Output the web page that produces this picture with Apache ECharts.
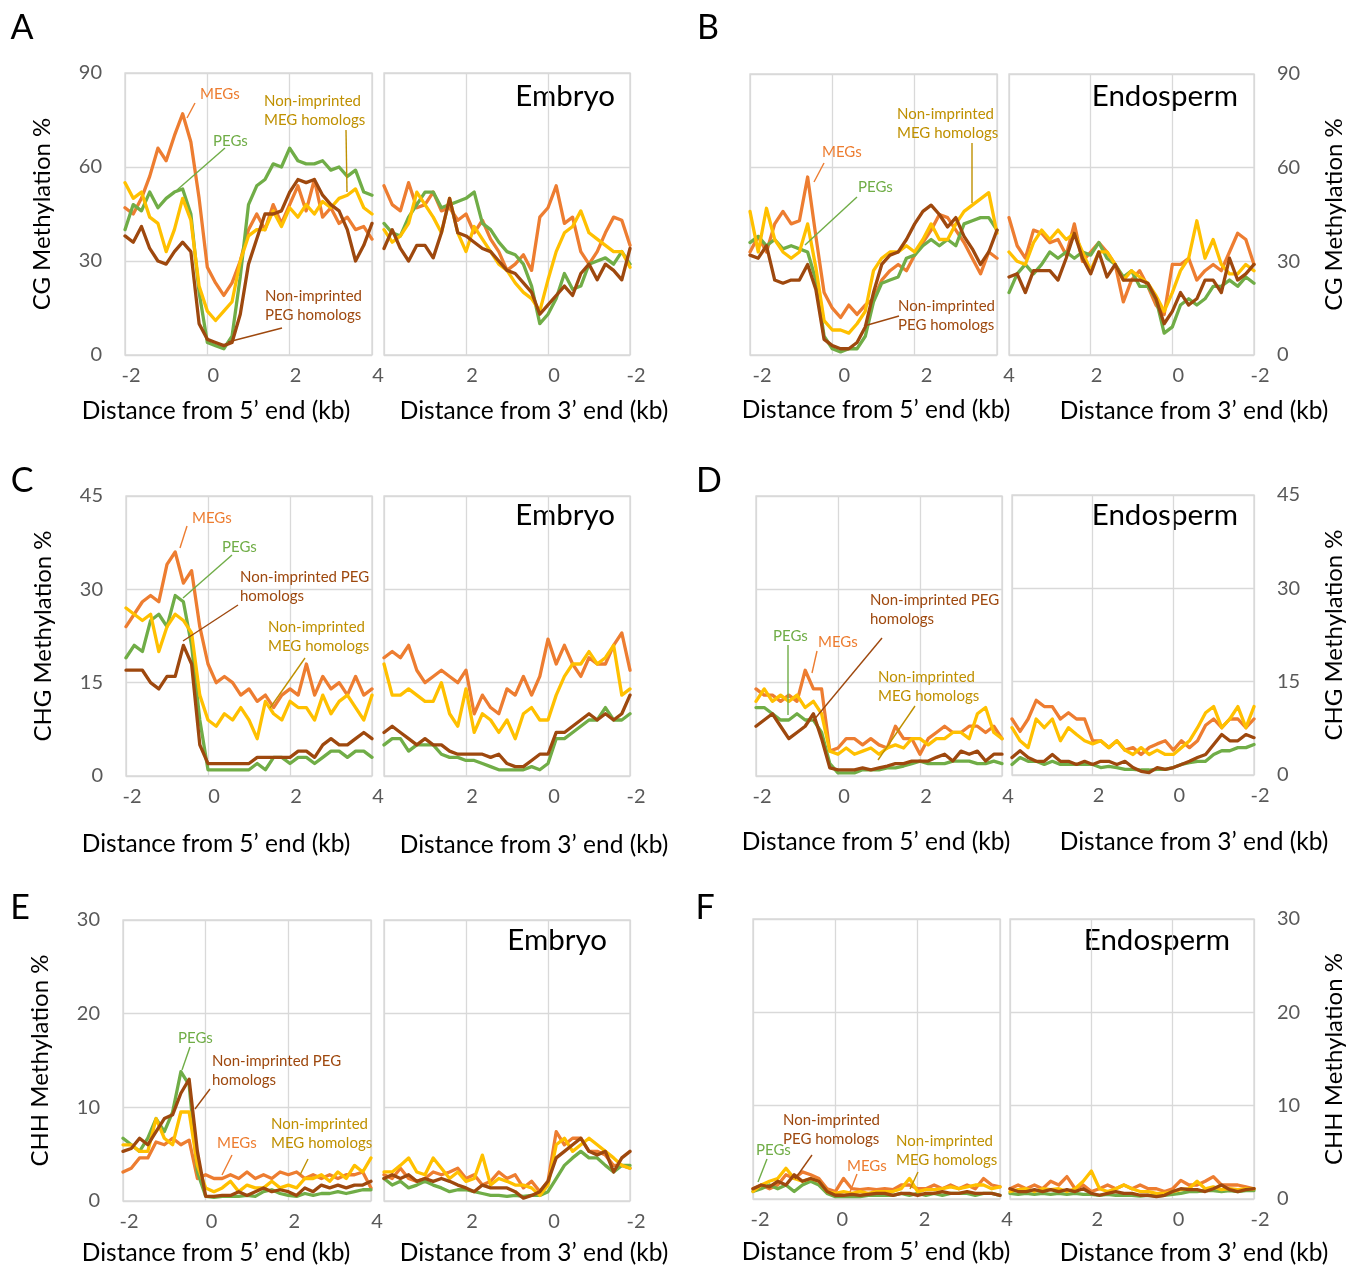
<!DOCTYPE html>
<html><head><meta charset="utf-8">
<script src="https://cdn.jsdelivr.net/npm/echarts@6/dist/echarts.min.js"></script>
<style>html,body{margin:0;padding:0;background:#fff}#c{width:1347px;height:1268px}</style>
</head><body><div id="c"></div>
<script>
// ---- distance (kb) ----
const dist5 = [-2,-1.8,-1.6,-1.4,-1.2,-1,-0.8,-0.6,-0.4,-0.2,0,0.2,0.4,0.6,0.8,1,1.2,1.4,1.6,1.8,2,2.2,2.4,2.6,2.8,3,3.2,3.4,3.6,3.8,4];
const dist3 = [4,3.8,3.6,3.4,3.2,3,2.8,2.6,2.4,2.2,2,1.8,1.6,1.4,1.2,1,0.8,0.6,0.4,0.2,0,-0.2,-0.4,-0.6,-0.8,-1,-1.2,-1.4,-1.6,-1.8,-2];
const xTicks = [-2,0,2,4];

// ---- A: CG, embryo ----
const A5_MEG  = [47,45,50,57,66,62,70,77,68,50,28,23,19,23,30,40,45,40,48,42,48,54,46,56,44,47,42,44,40,41,37];
const A5_PEG  = [40,48,46,52,47,50,52,53,45,20,4,3,2,6,25,48,54,56,61,60,66,62,61,61,62,59,60,57,59,52,51];
const A5_nMEG = [55,50,52,44,42,33,40,50,43,22,14,11,14,17,30,38,40,40,46,41,47,44,48,45,49,47,50,51,53,47,45];
const A5_nPEG = [38,36,41,34,30,29,33,36,33,10,5,4,3,4,13,29,37,45,45,46,52,56,55,56,51,48,46,40,30,35,42];
const A3_MEG  = [54,48,46,55,47,48,52,46,47,43,45,39,43,37,33,27,29,32,27,44,47,54,42,44,33,29,33,39,44,43,35];
const A3_PEG  = [42,39,38,44,48,52,52,47,48,49,50,52,42,40,36,33,32,29,22,10,13,18,26,21,22,29,30,31,29,33,29];
const A3_nMEG = [40,36,38,42,52,48,44,39,50,39,33,41,37,33,29,27,23,20,18,14,24,33,39,41,46,39,37,35,33,33,28];
const A3_nPEG = [34,40,34,30,35,35,31,39,50,39,38,36,34,33,30,27,26,23,20,13,16,19,22,19,26,29,24,29,27,24,34];
// ---- B: CG, endosperm ----
const B5_MEG  = [33,38,33,42,46,42,43,57,38,20,15,12,16,13,16,18,24,27,29,27,32,36,40,45,44,40,36,31,26,33,31];
const B5_PEG  = [36,38,35,37,34,35,34,33,24,6,2,1,2,2,6,17,23,24,25,31,32,35,37,35,37,35,42,43,44,44,40];
const B5_nMEG = [46,33,47,37,33,31,33,42,28,11,8,8,7,10,14,27,31,33,33,35,33,37,42,37,37,42,46,48,50,52,39];
const B5_nPEG = [32,31,35,24,23,24,24,29,21,5,3,2,2,4,9,20,29,32,33,37,42,46,48,45,41,44,38,34,29,33,40];
const B3_MEG  = [44,35,31,40,39,36,37,32,42,30,33,36,33,29,17,24,27,22,16,13,29,29,31,24,27,29,27,33,39,37,29];
const B3_PEG  = [20,26,29,26,29,33,31,33,31,33,32,36,31,29,25,27,22,22,18,7,9,16,18,16,18,22,22,24,22,25,23];
const B3_nMEG = [33,30,29,36,40,37,40,37,39,33,27,33,33,29,24,27,25,23,19,14,20,27,31,43,31,37,29,26,26,29,27];
const B3_nPEG = [25,26,20,27,27,27,24,31,39,31,26,33,25,29,24,24,24,23,18,10,14,20,16,18,24,24,20,31,24,26,29];
// ---- C: CHG, embryo ----
const C5_MEG  = [24,26,28,29,28,34,36,31,33,24,18,15,16,15,13,14,12,13,11,13,14,13,18,13,16,14,15,13,16,13,14];
const C5_PEG  = [19,21,20,25,26,24,29,28,21,9,1,1,1,1,1,1,2,1,3,3,2,3,3,2,3,4,4,3,4,4,3];
const C5_nMEG = [27,26,25,26,20,24,26,25,23,13,9,8,10,9,11,9,6,12,10,9,12,11,11,9,13,10,12,13,11,9,13];
const C5_nPEG = [17,17,17,15,14,16,16,21,18,5,2,2,2,2,2,2,3,3,3,3,3,4,4,3,5,6,5,5,6,7,6];
const C3_MEG  = [19,20,19,21,17,15,16,17,16,15,17,10,13,11,10,14,13,16,13,16,22,18,21,18,16,19,18,18,21,23,17];
const C3_PEG  = [5,6,6,4,5,5,5,3.5,3,3,2.5,2.5,2,1.5,1,1,1,1,1.5,1,2,6,6,7,8,9,9,11,9,9,10];
const C3_nMEG = [18,13,13,14,13,12,12,15,10,8,14,7,10,9,7,9,6,10,11,9,9,13,16,18,18,20,18,19,21,13,14];
const C3_nPEG = [7,8,7,6,5,6,5,5,4,3.5,3.5,3.5,3.5,3,3.5,2,1.5,1.5,2.5,3.5,3.5,7,7,8,9,10,9,10,9,10,13];
// ---- D: CHG, endosperm ----
const D5_MEG  = [14,13,13,12,13,12,17,14,14,4,4.5,6,6,5,6,5,4.5,8,6,6,3.5,6,7,8,7,7,8,8,7,8,6];
const D5_PEG  = [11,11,10,9,9,10,9,9,7,2,0.5,0.5,0.5,1,1,1,1.3,1.3,1.6,2,2.4,2,2,2,2.4,2.4,2.4,2,2,2.4,2];
const D5_nMEG = [12,14,12,13,12,13,11,12,10,4,3.5,4.5,3.5,4,4.5,3.5,4.5,5,4.5,6,6,5,6,6,7,7,6,10,11,7,6];
const D5_nPEG = [8,9,10,8,6,7,8,10,6,1.3,1,1,1,1.3,1,1.3,1.6,2,2,2.4,2.4,2.4,3,3.5,2.4,4,3.5,4,2.4,3.5,3.5];
const D3_MEG  = [9,7,9,12,11,11,9,10,9,9,5.5,5.5,4.4,5.5,4,4.4,3.3,4.4,5,5.5,4,5.5,4.4,5.5,8,9,7.6,9,9,7.6,9];
const D3_PEG  = [1.7,2.8,2.2,2.2,1.7,2.2,1.7,1.7,1.7,1.7,1.7,1.2,1.4,1.2,0.9,0.9,0.8,0.8,0.9,0.9,1.2,1.7,2,2.2,2.2,3.3,3.9,3.9,4.4,4.4,4.9];
const D3_nMEG = [7.6,5.5,4.4,9,7.6,9,5.5,7.6,6.5,5.5,5,5.5,4.4,5.5,4,3.3,4.4,3.3,4,3.3,3.3,4.4,5.5,7.6,10,11,7.6,9,11,7.6,11];
const D3_nPEG = [2.8,3.9,2.8,2.2,2.2,3.3,2.2,2.2,1.7,2.2,1.7,2.2,2.2,1.7,2.2,1.2,0.6,0.4,1.2,0.9,1.2,1.7,2.2,2.8,3.3,4.9,6.5,5.5,5.5,6.5,6];
// ---- E: CHH, embryo ----
const E5_MEG  = [3.1,3.5,4.6,4.6,6.3,6,6.7,6,6.5,2.4,2.8,2.4,2.4,2.8,2.4,3.1,2.4,2.8,2.4,3.1,2.8,3.1,2.4,2.8,2.4,2.8,2.4,2.8,2.8,3.1,1.4];
const E5_PEG  = [6.7,6,5.3,6.7,8.8,7.4,9.5,13.8,12.4,3.1,0.5,0.4,0.5,0.5,0.5,0.6,0.5,1,1.2,0.8,0.6,0.5,0.8,0.6,0.8,0.8,1,0.8,1,1.2,1.2];
const E5_nMEG = [6,6,5.3,5.3,8.8,6.7,6,9.5,9.5,3.8,1.4,1,1.4,2.1,1,1.7,1.4,1.4,2.1,1.4,1.7,1.4,2.4,2.4,2.8,2.1,3.1,2.4,3.8,3.1,4.6];
const E5_nPEG = [5.3,5.6,6.7,6,7.4,8.8,9.2,11.5,13,5.3,0.5,0.5,0.6,0.6,1,0.6,1,1.4,1,1.2,1,0.6,1.4,1,1.7,1.4,1.7,1.4,1.7,1.7,2.1];
const E3_MEG  = [2.8,2.4,3.5,2.4,2.1,2.4,3.1,2.8,3.1,3.5,2.4,2.8,1.7,2.1,3.1,2.4,2.8,1.4,2.1,1,2.1,7.4,6,6.7,6.7,5.3,5.3,4.9,3.8,3.8,3.5];
const E3_PEG  = [2.4,1.7,2.1,1.4,1.7,2.1,1.7,1.4,1,1.2,1.2,1,0.8,0.6,0.6,0.5,0.6,0.5,0.6,0.6,1,2.4,3.8,4.6,5.3,4.6,4.6,3.8,3.1,3.8,3.8];
const E3_nMEG = [3.1,3.1,3.8,4.6,3.1,2.8,4.6,3.5,2.4,3.1,2.1,2.4,4.9,1.7,2.4,2.1,1.7,1.7,1.4,0.6,1.7,6,6.7,5.3,6,6.7,6,5.3,4.6,3.8,3.5];
const E3_nPEG = [2.4,2.8,2.4,2.8,2.1,2.4,2.1,2.4,2.1,1.7,1.4,1,1.7,1.4,1.4,1.4,1,0.3,0.6,1,2.1,4.6,5.3,6,6.7,5.3,4.9,5.3,3.1,4.6,5.3];
// ---- F: CHH, endosperm ----
const F5_MEG  = [1.1,1.5,1.1,1.5,2.6,2.2,2.9,2.6,2.2,1.1,0.8,2.2,1.1,1,1.1,1,1.1,1,1.5,1.5,1.1,1.1,1.5,1.1,1.5,1.1,1.5,1.1,2.2,1.5,1.3];
const F5_PEG  = [0.8,1.1,1.5,1.1,1.5,0.8,1.5,1.9,1.5,0.6,0.25,0.25,0.25,0.25,0.4,0.4,0.4,0.4,0.6,0.4,0.6,0.4,0.6,0.4,0.6,0.6,0.6,0.4,0.6,0.6,0.4];
const F5_nMEG = [0.8,1.5,1.9,2.2,3.3,2.2,1.9,2.2,1.9,0.8,0.6,0.8,0.6,0.8,0.6,0.8,0.8,0.8,1.1,2.2,0.8,1,1,1.1,1.3,1.1,1.3,1.5,1.5,1.1,1.3];
const F5_nPEG = [1.1,1.5,1.3,1.9,1.5,2.6,1.9,2.2,1.9,0.8,0.4,0.4,0.5,0.4,0.5,0.6,0.6,0.4,0.6,0.6,0.4,0.6,0.6,0.8,0.6,0.6,0.8,0.6,0.6,0.6,0.4];
const F3_MEG  = [1.1,1.5,1.1,1.5,1.1,1.9,1.5,2.4,1.1,1.5,0.8,1.1,1.5,1.1,1.5,1.1,1.5,1.1,1.1,0.8,1.1,2,1.5,1.5,1.9,2.4,1.5,1.5,1.5,1.3,1.1];
const F3_PEG  = [0.6,0.5,0.6,0.5,0.6,0.5,0.6,0.5,0.6,0.5,0.5,0.4,0.5,0.4,0.4,0.4,0.3,0.4,0.3,0.4,0.5,0.6,0.8,0.8,0.9,0.9,0.8,0.9,0.8,0.9,0.9];
const F3_nMEG = [0.8,1,1.1,0.8,1.1,1,1.1,0.8,1.1,1.9,3,1.1,0.8,1.1,1.5,1.1,0.8,0.8,0.6,0.6,0.8,1,1.1,1.9,1.1,1.3,1,1.1,1,1.1,1.1];
const F3_nPEG = [1.1,0.8,0.8,1,0.8,1,0.8,1,0.8,1.1,0.6,0.4,0.6,0.8,0.6,0.6,0.4,0.4,0.25,0.4,0.8,1.1,1,1,0.8,1.1,1.5,1,0.8,1,1.1];

// ---- styling / layout ----
const FONT = 'Lato, "Noto Sans", sans-serif';
const COLORS = {MEG:'#ED7D31', PEG:'#70AD47', nMEG:'#FFC000', nPEG:'#9E480E'};
const NAMES = {MEG:'MEGs', PEG:'PEGs', nMEG:'Non-imprinted MEG homologs', nPEG:'Non-imprinted PEG homologs'};
const TXT = {MEG:'#ED7D31', PEG:'#70AD47', nMEG:'#BF9000', nPEG:'#9E480E'};
const GRID = '#d9d9d9';

const panels = [
  {id:'A', yMax:90, yInt:30, yName:'CG Methylation %', side:'left', tissue:'Embryo', lpad:12,
   g5:[125,73,247,282], g3:[384,73,246,282], letter:[22,28], title:[615,96], xt:[[216,411],[534,411]],
   d5:{MEG:A5_MEG,PEG:A5_PEG,nMEG:A5_nMEG,nPEG:A5_nPEG}, d3:{MEG:A3_MEG,PEG:A3_PEG,nMEG:A3_nMEG,nPEG:A3_nPEG},
   notes:[['MEG','MEGs',200,94,[195,103,187,118]],['PEG','PEGs',213,141,[225,148,177,190]],
          ['nMEG','Non-imprinted\nMEG homologs',264,111,[346,130,347,192]],['nPEG','Non-imprinted\nPEG homologs',265,306,[282,328,228,342]]]},
  {id:'B', yMax:90, yInt:30, yName:'CG Methylation %', side:'right', tissue:'Endosperm', lpad:24,
   g5:[750,74,247,281], g3:[1009,74,246,281], letter:[708,28], title:[1238,96], xt:[[876,410],[1194,411]],
   d5:{MEG:B5_MEG,PEG:B5_PEG,nMEG:B5_nMEG,nPEG:B5_nPEG}, d3:{MEG:B3_MEG,PEG:B3_PEG,nMEG:B3_nMEG,nPEG:B3_nPEG},
   notes:[['MEG','MEGs',822,152,[824,163,814,182]],['PEG','PEGs',858,187,[857,197,805,245]],
          ['nMEG','Non-imprinted\nMEG homologs',897,124,[972,143,972,203]],['nPEG','Non-imprinted\nPEG homologs',898,316,[899,316,864,326]]]},
  {id:'C', yMax:45, yInt:15, yName:'CHG Methylation %', side:'left', tissue:'Embryo', lpad:12,
   g5:[126,496,246,280], g3:[384,496,246,280], letter:[22,481], title:[615,515], xt:[[216,844],[534,845]],
   d5:{MEG:C5_MEG,PEG:C5_PEG,nMEG:C5_nMEG,nPEG:C5_nPEG}, d3:{MEG:C3_MEG,PEG:C3_PEG,nMEG:C3_nMEG,nPEG:C3_nPEG},
   notes:[['MEG','MEGs',192,518,[187,526,180,548]],['PEG','PEGs',222,547,[232,555,183,598]],
          ['nPEG','Non-imprinted PEG\nhomologs',240,587,[238,605,183,641]],['nMEG','Non-imprinted\nMEG homologs',268,637,[305,658,270,708]]]},
  {id:'D', yMax:45, yInt:15, yName:'CHG Methylation %', side:'right', tissue:'Endosperm', lpad:12,
   g5:[756,496,246,280], g3:[1012,495,245,280], letter:[709,481], title:[1238,515], xt:[[876,842],[1194,842]],
   d5:{MEG:D5_MEG,PEG:D5_PEG,nMEG:D5_nMEG,nPEG:D5_nPEG}, d3:{MEG:D3_MEG,PEG:D3_PEG,nMEG:D3_nMEG,nPEG:D3_nPEG},
   notes:[['nPEG','Non-imprinted PEG\nhomologs',870,610,[882,638,813,721]],['PEG','PEGs',773,636,[788,645,788,715]],
          ['MEG','MEGs',818,642,[817,651,812,673]],['nMEG','Non-imprinted\nMEG homologs',878,687,[915,706,878,760]]]},
  {id:'E', yMax:30, yInt:10, yName:'CHH Methylation %', side:'left', tissue:'Embryo', lpad:12,
   g5:[123,920,248,281], g3:[384,920,246,281], letter:[20,908], title:[607,940], xt:[[216,1253],[534,1253]],
   d5:{MEG:E5_MEG,PEG:E5_PEG,nMEG:E5_nMEG,nPEG:E5_nPEG}, d3:{MEG:E3_MEG,PEG:E3_PEG,nMEG:E3_nMEG,nPEG:E3_nPEG},
   notes:[['PEG','PEGs',178,1038,[190,1047,182,1070]],['nPEG','Non-imprinted PEG\nhomologs',212,1071,[210,1089,195,1109]],
          ['MEG','MEGs',217,1143,[232,1155,222,1175]],['nMEG','Non-imprinted\nMEG homologs',271,1134,[308,1159,300,1175]]]},
  {id:'F', yMax:30, yInt:10, yName:'CHH Methylation %', side:'right', tissue:'Endosperm', lpad:14,
   g5:[753,919,247,280], g3:[1010,919,247,280], letter:[705,908], title:[1230,940], xt:[[876,1252],[1194,1253]],
   d5:{MEG:F5_MEG,PEG:F5_PEG,nMEG:F5_nMEG,nPEG:F5_nPEG}, d3:{MEG:F3_MEG,PEG:F3_PEG,nMEG:F3_nMEG,nPEG:F3_nPEG},
   notes:[['nPEG','Non-imprinted\nPEG homologs',783,1130,[812,1155,795,1179]],['PEG','PEGs',756,1150,[767,1159,758,1182]],
          ['MEG','MEGs',847,1166,[857,1174,850,1192]],['nMEG','Non-imprinted\nMEG homologs',896,1151,[918,1172,910,1189]]]}
];

const option = {animation:false, backgroundColor:'#fff', grid:[], xAxis:[], yAxis:[], series:[], graphic:[]};
const ORDER = ['MEG','PEG','nMEG','nPEG'];

panels.forEach(p => {
  ['5','3'].forEach(end => {
    const is3 = end === '3';
    const gi = option.grid.length;
    const r = is3 ? p.g3 : p.g5;
    option.grid.push({left:r[0], top:r[1], width:r[2], height:r[3], show:true,
      borderColor:GRID, borderWidth:1.3, backgroundColor:'transparent'});
    option.xAxis.push({gridIndex:gi, type:'value', min:xTicks[0], max:xTicks[xTicks.length-1], interval:2, inverse:is3,
      axisLine:{show:false}, axisTick:{show:false},
      splitLine:{show:true, lineStyle:{color:GRID, width:1.3}},
      axisLabel:{color:'#595959', fontSize:20, fontFamily:FONT, margin:11, padding:[0,0,0,is3 ? 12 : p.lpad],
        formatter: v => (is3 && v === 4) ? '' : String(v)}});
    const showY = (p.side === 'left' && !is3) || (p.side === 'right' && is3);
    option.yAxis.push({gridIndex:gi, type:'value', min:0, max:p.yMax, interval:p.yInt, position:p.side,
      axisLine:{show:false}, axisTick:{show:false},
      splitLine:{show:true, lineStyle:{color:GRID, width:1.3}},
      axisLabel:{show:showY, color:'#595959', fontSize:20, fontFamily:FONT, margin:23},
      name: showY ? p.yName : '', nameLocation:'middle', nameRotate:90,
      nameGap: p.side === 'left' ? 71 : 68,
      nameTextStyle:{fontSize:24, fontFamily:FONT, color:'#000'}});
    const d = is3 ? p.d3 : p.d5;
    const xs = is3 ? dist3 : dist5;
    ORDER.forEach(k => {
      option.series.push({type:'line', name:NAMES[k], xAxisIndex:gi, yAxisIndex:gi,
        data: xs.map((x, i) => [x, d[k][i]]), showSymbol:false, symbol:'none',
        lineStyle:{color:COLORS[k], width:3.3, join:'round', cap:'round'}, itemStyle:{color:COLORS[k]}});
    });
  });
  option.graphic.push({type:'text', x:p.letter[0], y:p.letter[1],
    style:{text:p.id, font:'34px ' + FONT, fill:'#000', textAlign:'center', textVerticalAlign:'middle'}});
  option.graphic.push({type:'text', x:p.title[0], y:p.title[1],
    style:{text:p.tissue, font:'29.5px ' + FONT, fill:'#000', textAlign:'right', textVerticalAlign:'middle'}});
  option.graphic.push({type:'text', x:p.xt[0][0], y:p.xt[0][1],
    style:{text:'Distance from 5\u2019 end (kb)', font:'24.5px ' + FONT, fill:'#000', textAlign:'center', textVerticalAlign:'middle'}});
  option.graphic.push({type:'text', x:p.xt[1][0], y:p.xt[1][1],
    style:{text:'Distance from 3\u2019 end (kb)', font:'24.5px ' + FONT, fill:'#000', textAlign:'center', textVerticalAlign:'middle'}});
  p.notes.forEach(n => {
    const [k, t, x, y, ln] = n;
    option.graphic.push({type:'line', shape:{x1:ln[0], y1:ln[1], x2:ln[2], y2:ln[3]},
      style:{stroke:TXT[k], lineWidth:1.4}, z:10});
    option.graphic.push({type:'text', x:x, y:y, z:10,
      style:{text:t, font:'15px ' + FONT, fill:TXT[k], textAlign:'left', textVerticalAlign:'middle', lineHeight:19}});
  });
});

const chart = echarts.init(document.getElementById('c'), null, {renderer:'canvas'});
chart.setOption(option);
</script></body></html>
